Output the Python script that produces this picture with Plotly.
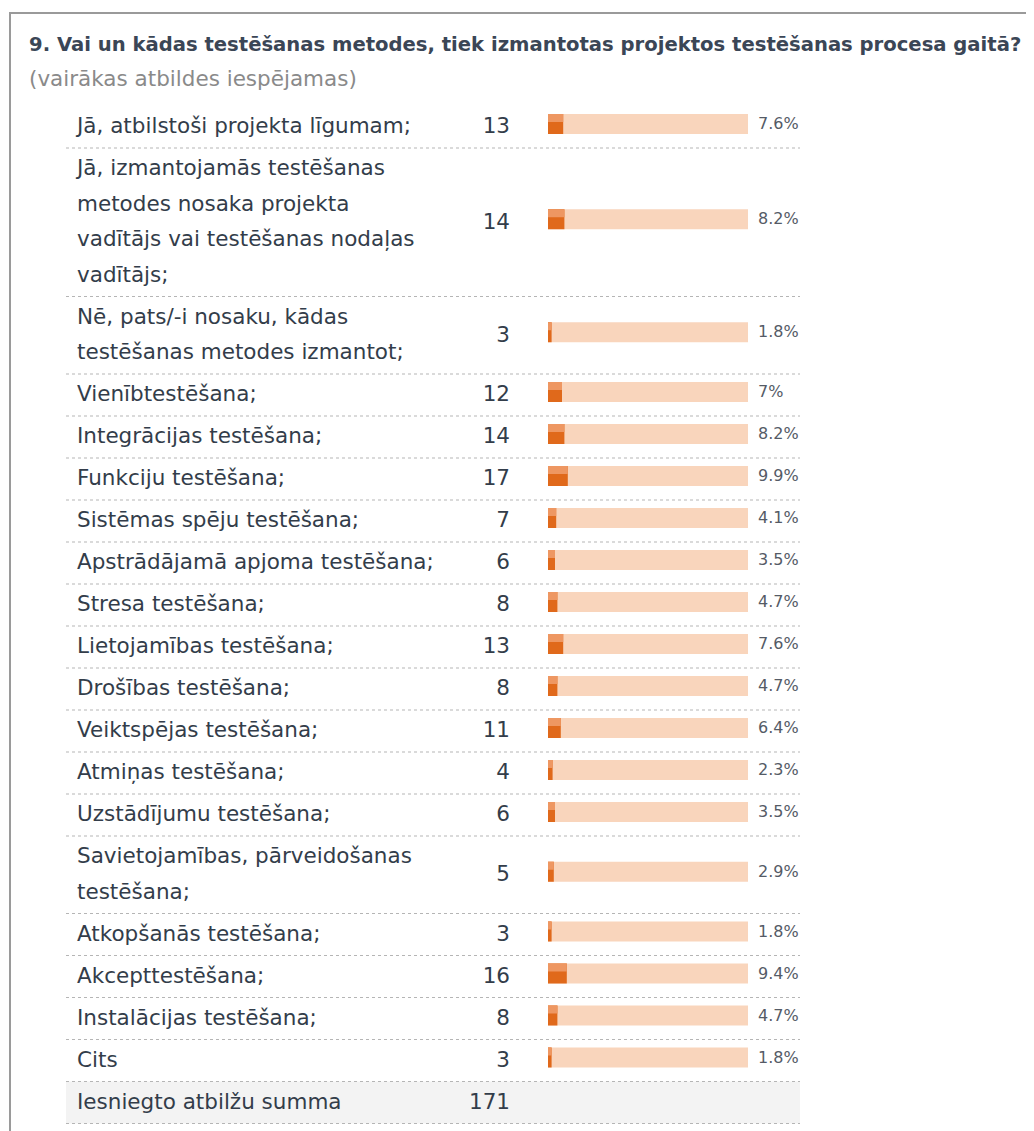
import plotly.graph_objects as go

# dati no aptaujas tabulas
title = "9. Vai un kādas testēšanas metodes, tiek izmantotas projektos testēšanas procesa gaitā?"
subtitle = "(vairākas atbildes iespējamas)"

labels = [
    "Jā, atbilstoši projekta līgumam;",
    "Jā, izmantojamās testēšanas<br>metodes nosaka projekta<br>vadītājs vai testēšanas nodaļas<br>vadītājs;",
    "Nē, pats/-i nosaku, kādas<br>testēšanas metodes izmantot;",
    "Vienībtestēšana;",
    "Integrācijas testēšana;",
    "Funkciju testēšana;",
    "Sistēmas spēju testēšana;",
    "Apstrādājamā apjoma testēšana;",
    "Stresa testēšana;",
    "Lietojamības testēšana;",
    "Drošības testēšana;",
    "Veiktspējas testēšana;",
    "Atmiņas testēšana;",
    "Uzstādījumu testēšana;",
    "Savietojamības, pārveidošanas<br>testēšana;",
    "Atkopšanās testēšana;",
    "Akcepttestēšana;",
    "Instalācijas testēšana;",
    "Cits",
]
counts = [13, 14, 3, 12, 14, 17, 7, 6, 8, 13, 8, 11, 4, 6, 5, 3, 16, 8, 3]
percents = [7.6, 8.2, 1.8, 7, 8.2, 9.9, 4.1, 3.5, 4.7, 7.6, 4.7, 6.4, 2.3, 3.5, 2.9, 1.8, 9.4, 4.7, 1.8]

total_label = "Iesniegto atbilžu summa"
total_count = 171

# izkārtojums (pikseļos, lapas koordinātās); lapai ir 8px body atkāpe
W, H = 1034, 1131
OFF = 8
LINE_H = 35.5
PAD = 6.5
TOP = 106
LABEL_X = 77
COUNT_X = 510
BAR_X0, BAR_X1 = 548, 748
PCT_X = 758
SEP_X0, SEP_X1 = 66, 800

FONT = "DejaVu Sans"
TEXT_COL = "#333d4a"
FS = 21.5

# rindu robežas
bounds = [TOP]
for lab in labels + [total_label]:
    n = len(lab.split("<br>"))
    bounds.append(bounds[-1] + n * LINE_H + PAD)

centers = [(bounds[i] + bounds[i + 1]) / 2 for i in range(len(labels))]
bar_y = [c - 3 for c in centers]

# teksta rindas atsevišķi, lai sakristu rindstarpas
line_x, line_y, line_t = [], [], []
for i, lab in enumerate(labels + [total_label]):
    parts = lab.split("<br>")
    for j, p in enumerate(parts):
        line_x.append(LABEL_X)
        line_y.append(bounds[i] + PAD / 2 + LINE_H * (j + 0.5) + 1)
        line_t.append(p)

total_center = (bounds[-2] + bounds[-1]) / 2

fig = go.Figure()

# etiķetes
fig.add_trace(go.Scatter(
    x=line_x, y=line_y, text=line_t, mode="text",
    textposition="middle right",
    textfont=dict(family=FONT, size=FS, color=TEXT_COL),
    hoverinfo="skip", cliponaxis=False,
))

# skaiti
fig.add_trace(go.Scatter(
    x=[COUNT_X] * len(counts) + [COUNT_X], y=[c + 1 for c in centers] + [total_center + 1],
    text=[str(c) for c in counts] + [str(total_count)], mode="text",
    textposition="middle left",
    textfont=dict(family=FONT, size=FS, color=TEXT_COL),
    hoverinfo="skip", cliponaxis=False,
))

# procenti
fig.add_trace(go.Scatter(
    x=[PCT_X] * len(percents), y=[b + 1 for b in bar_y],
    text=[f"{p:g}%" for p in percents], mode="text",
    textposition="middle right",
    textfont=dict(family=FONT, size=16, color="#555b66"),
    hoverinfo="skip", cliponaxis=False,
))

# joslas: fons 100%, tumšā daļa = procents
fig.add_trace(go.Bar(
    x=[100] * len(percents), y=bar_y, orientation="h", width=20,
    marker=dict(color="#f9d5bc", line=dict(width=0)),
    xaxis="x2", yaxis="y", hoverinfo="skip",
))
fig.add_trace(go.Bar(
    x=percents, y=bar_y, orientation="h", width=20,
    marker=dict(color="#e0691b", line=dict(width=0)),
    xaxis="x2", yaxis="y", hoverinfo="skip",
))
fig.add_trace(go.Bar(
    x=percents, y=bar_y, orientation="h", width=8, offset=-10,
    marker=dict(color="#ee9762", line=dict(width=0)),
    xaxis="x2", yaxis="y", hoverinfo="skip",
))

shapes = []
# ārējais rāmis
shapes.append(dict(type="rect", xref="x", yref="y", x0=10, x1=W + 20, y0=13, y1=H + 20,
                   line=dict(color="#9a9a9a", width=2), fillcolor="rgba(0,0,0,0)", layer="below"))
# kopsummas rindas fons
shapes.append(dict(type="rect", xref="x", yref="y", x0=SEP_X0, x1=SEP_X1, y0=bounds[-2], y1=bounds[-1],
                   line=dict(width=0), fillcolor="#f3f3f3", layer="below"))
# punktētās atdalītājlīnijas
for b in bounds[1:]:
    shapes.append(dict(type="line", xref="x", yref="y", x0=SEP_X0, x1=SEP_X1, y0=b, y1=b,
                       line=dict(color="#b5b5b5", width=1, dash="dot"), layer="above"))

PW, PH = W - OFF, H - OFF
fig.update_layout(
    width=PW, height=PH,
    margin=dict(l=0, r=0, t=0, b=0),
    paper_bgcolor="white", plot_bgcolor="rgba(0,0,0,0)",
    showlegend=False, barmode="overlay",
    xaxis=dict(range=[OFF, W], domain=[0, 1], visible=False, fixedrange=True),
    xaxis2=dict(range=[0, 100], domain=[(BAR_X0 - OFF) / PW, (BAR_X1 - OFF) / PW], anchor="y",
                visible=False, fixedrange=True),
    yaxis=dict(range=[H, OFF], domain=[0, 1], visible=False, fixedrange=True),
    shapes=shapes,
    annotations=[
        dict(xref="x", yref="y", x=27, y=44, text="<b>" + title + "</b>", showarrow=False,
             xanchor="left", yanchor="middle",
             font=dict(family=FONT, size=19.6, color="#3b4656")),
        dict(xref="x", yref="y", x=27, y=78, text=subtitle, showarrow=False,
             xanchor="left", yanchor="middle",
             font=dict(family=FONT, size=21.5, color="#8a8a8a")),
    ],
)

fig.write_html("out.html")
